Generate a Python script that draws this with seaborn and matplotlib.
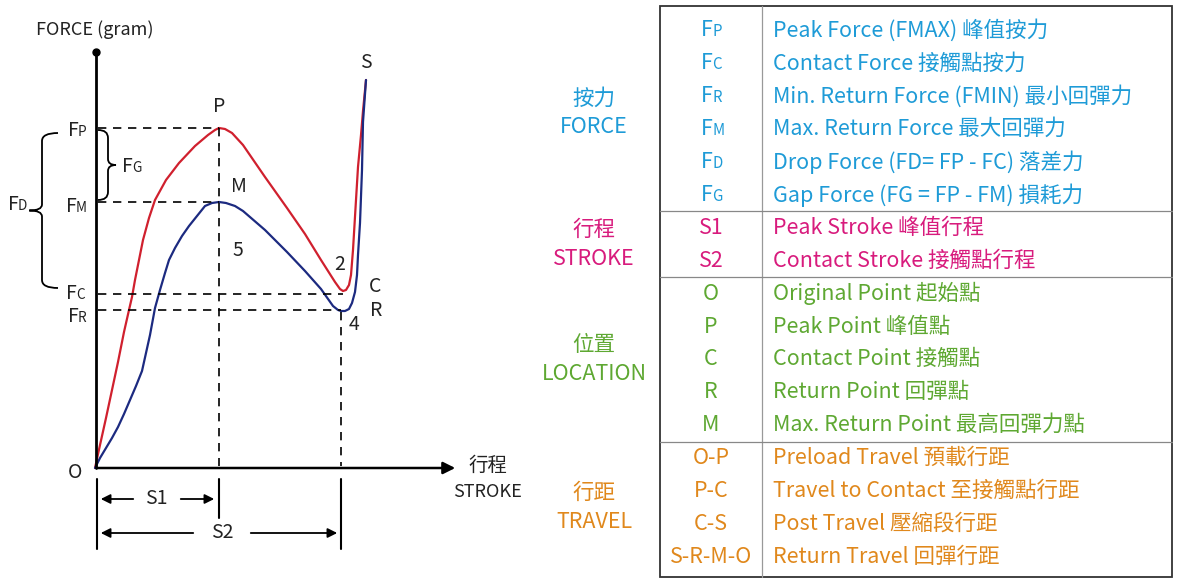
import matplotlib
matplotlib.use("Agg")
import matplotlib.pyplot as plt
import pandas as pd
import seaborn as sns
from matplotlib.path import Path
from matplotlib.patches import PathPatch

FONT = "Noto Sans CJK TC"
RED = "#d0202e"
NAVY = "#1c2a80"
C_FORCE = "#1e9bd7"
C_STROKE = "#d81b7d"
C_LOC = "#5ea832"
C_TRAVEL = "#e0881c"

# press curve (O -> P -> C -> S), picture units
press_x = [95, 100, 106, 112, 118, 124, 129, 132, 135, 139, 143, 149, 155, 166, 179, 195, 208, 215, 219, 225, 232, 243,
           265, 287, 305, 321, 335, 340, 343, 346, 349, 351, 353, 356, 358, 361, 363, 366]
press_y = [468, 445, 418, 390, 362, 332, 310, 297, 280, 260, 240, 218, 200, 180, 163, 146, 135, 130, 128, 129, 133, 145,
           177, 208, 234, 260, 282, 289, 291, 290, 285, 275, 250, 200, 167, 135, 111, 80]
# return curve (S -> R -> M -> O)
ret_x = [95, 100, 106, 112, 118, 124, 130, 136, 142, 146, 150, 155, 160, 165, 169, 175, 182, 189, 197, 205, 212, 219,
         226, 235, 243, 265, 287, 305, 321, 333, 338, 341, 345, 349, 352, 355, 357, 358, 360, 362, 363, 366]
ret_y = [468, 458, 448, 438, 427, 414, 400, 386, 371, 353, 335, 308, 290, 273, 260, 248, 236, 226, 216, 206, 203, 202,
         203, 206, 211, 230, 252, 271, 289, 306, 310, 311, 311, 309, 303, 292, 275, 255, 223, 170, 122, 80]

force_codes = ["FP", "FC", "FR", "FM", "FD", "FG"]
force_desc = ["Peak Force (FMAX) 峰值按力", "Contact Force 接觸點按力", "Min. Return Force (FMIN) 最小回彈力",
              "Max. Return Force 最大回彈力", "Drop Force (FD= FP - FC) 落差力", "Gap Force (FG = FP - FM) 損耗力"]
stroke_codes = ["S1", "S2"]
stroke_desc = ["Peak Stroke 峰值行程", "Contact Stroke 接觸點行程"]
loc_codes = ["O", "P", "C", "R", "M"]
loc_desc = ["Original Point 起始點", "Peak Point 峰值點", "Contact Point 接觸點", "Return Point 回彈點", "Max. Return Point 最高回彈力點"]
travel_codes = ["O-P", "P-C", "C-S", "S-R-M-O"]
travel_desc = ["Preload Travel 預載行距", "Travel to Contact 至接觸點行距", "Post Travel 壓縮段行距", "Return Travel 回彈行距"]
groups = [("按力\nFORCE", force_codes, force_desc, C_FORCE),
          ("行程\nSTROKE", stroke_codes, stroke_desc, C_STROKE),
          ("位置\nLOCATION", loc_codes, loc_desc, C_LOC),
          ("行距\nTRAVEL", travel_codes, travel_desc, C_TRAVEL)]

sns.set_theme(style="white")
plt.rcParams["font.family"] = FONT
fig = plt.figure(figsize=(11.77, 5.82), dpi=100)
ax = fig.add_axes([0, 0, 1, 1])
ax.set_xlim(0, 1177)
ax.set_ylim(582, 0)
ax.axis("off")

# curves
sns.lineplot(data=pd.DataFrame({"x": press_x, "y": press_y}), x="x", y="y", sort=False, color=RED, lw=1.6, ax=ax)
sns.lineplot(data=pd.DataFrame({"x": ret_x, "y": ret_y}), x="x", y="y", sort=False, color=NAVY, lw=1.6, ax=ax)

k = "black"
# axes
ax.annotate("", xy=(458, 468), xytext=(94, 468), arrowprops=dict(arrowstyle="-|>", color=k, lw=1.8, mutation_scale=18))
ax.plot([96, 96], [468, 52], color=k, lw=2)
ax.plot(96, 52, "o", color=k, ms=5)

# dashed guides
ds = dict(color=k, lw=1.2, ls=(0, (5, 4)))
ax.plot([98, 219], [128, 128], **ds)
ax.plot([98, 219], [202, 202], **ds)
ax.plot([98, 343], [294, 294], **ds)
ax.plot([98, 341], [310, 310], **ds)
ax.plot([219, 219], [128, 466], **ds)
ax.plot([341, 341], [312, 466], **ds)

# stroke dimension lines
for xx, y1 in [(97, 549), (219, 518), (341, 549)]:
    ax.plot([xx, xx], [479, y1], color=k, lw=1.5)
arr = dict(arrowstyle="-|>", color=k, lw=1.3, mutation_scale=14)
ax.annotate("", xy=(98, 499), xytext=(136, 499), arrowprops=arr)
ax.annotate("", xy=(217, 499), xytext=(178, 499), arrowprops=arr)
ax.annotate("", xy=(98, 533), xytext=(196, 533), arrowprops=arr)
ax.annotate("", xy=(340, 533), xytext=(248, 533), arrowprops=arr)


def brace(x, y0, y1, depth, direction):
    # curly brace; ends point toward +direction, tip toward -direction
    ym = (y0 + y1) / 2
    d = depth * direction
    verts = [(x + d, y0), (x, y0), (x, y0 + 8), (x, ym - 6),
             (x, ym), (x - d * 0.8, ym), (x - d * 0.8, ym),
             (x, ym), (x, ym + 6), (x, y1 - 8),
             (x, y1), (x + d, y1), (x + d, y1)]
    codes = [Path.MOVETO, Path.CURVE3, Path.CURVE3, Path.LINETO,
             Path.CURVE3, Path.CURVE3, Path.LINETO,
             Path.CURVE3, Path.CURVE3, Path.LINETO,
             Path.CURVE3, Path.CURVE3, Path.LINETO]
    ax.add_patch(PathPatch(Path(verts, codes), fill=False, lw=1.3, color=k))


brace(42, 133, 288, 16, 1)
brace(108, 130, 200, 10, -1)


def flabel(x, y, sub, size=14, color="#222"):
    ax.text(x, y, "F", fontsize=size, ha="left", va="baseline", color=color)
    ax.text(x + size * 0.72, y, sub, fontsize=size * 0.7, ha="left", va="baseline", color=color)


flabel(68, 136, "P")
flabel(122, 172, "G")
flabel(8, 210, "D")
flabel(66, 212, "M")
flabel(66, 299, "C")
flabel(68, 322, "R")

txt = dict(fontsize=14, color="#222", ha="center", va="center")
ax.text(36, 30, "FORCE (gram)", fontsize=13, color="#222", ha="left", va="center")
ax.text(75, 472, "O", **txt)
ax.text(219, 106, "P", **txt)
ax.text(239, 187, "M", **txt)
ax.text(238, 250, "5", **txt)
ax.text(340, 264, "2", **txt)
ax.text(375, 287, "C", **txt)
ax.text(376, 311, "R", **txt)
ax.text(354, 325, "4", **txt)
ax.text(366, 62, "S", **txt)
ax.text(488, 465, "行程", **txt)
ax.text(488, 492, "STROKE", fontsize=13, color="#222", ha="center", va="center")
ax.text(156, 499, "S1", **txt)
ax.text(222, 533, "S2", **txt)

# legend table
ax.add_patch(plt.Rectangle((660, 6), 512, 571, fill=False, lw=1.3, color="#333"))
ax.plot([762, 762], [6, 577], color="#999", lw=0.9)
row_h = 32.9
fs = 15.5
y = 14
for gi, (glab, codes, descs, col) in enumerate(groups):
    top = y
    for c, d in zip(codes, descs):
        yc = y + row_h / 2
        if c.startswith("F"):
            flabel(701, yc + 6, c[1], size=fs, color=col)
        else:
            ax.text(711, yc, c, fontsize=fs, color=col, ha="center", va="center")
        ax.text(773, yc, d, fontsize=fs, color=col, ha="left", va="center")
        y += row_h
    ax.text(594, (top + y) / 2, glab, fontsize=15.5, color=col, ha="center", va="center", linespacing=1.4)
    if gi < len(groups) - 1:
        ax.plot([660, 1172], [y, y], color="#888", lw=0.9)

fig.savefig("out.png", dpi=100, facecolor="white")
